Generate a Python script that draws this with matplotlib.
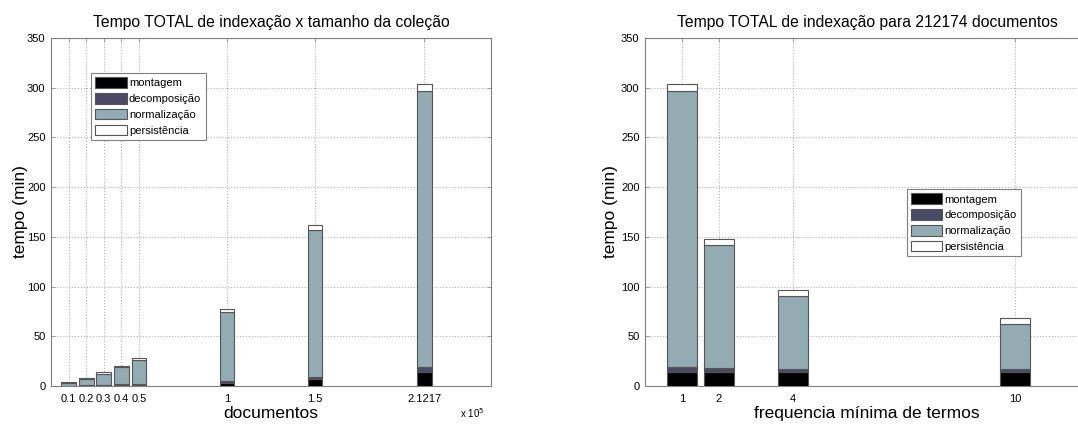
import numpy as np
import matplotlib
matplotlib.use('Agg')
import matplotlib.pyplot as plt

plt.rcParams['font.family'] = ['Liberation Sans', 'DejaVu Sans']

# dados
docs = [0.1, 0.2, 0.3, 0.4, 0.5, 1, 1.5, 2.1217]          # x 10^5 documentos
doc_labels = ['0.1', '0.2', '0.3', '0.4', '0.5', '1', '1.5', '2.1217']
mont_doc = [0.3, 0.6, 1.0, 1.2, 1.5, 3.0, 6.7, 14.4]
decomp_doc = [0.2, 0.3, 0.4, 0.5, 0.6, 2.0, 2.7, 5.1]
norm_doc = [2.7, 6.1, 10.6, 17.3, 24.0, 69.0, 147.6, 277.5]
pers_doc = [0.8, 0.8, 1.8, 1.0, 1.7, 3.5, 4.7, 6.7]

freq = [1, 2, 4, 10]
mont_freq = [14.4, 14.4, 14.4, 14.4]
decomp_freq = [5.1, 3.6, 2.6, 2.6]
norm_freq = [277.5, 123.6, 73.6, 45.4]
pers_freq = [6.7, 6.1, 5.7, 5.6]

labels = ['montagem', 'decomposição', 'normalização', 'persistência']
colors = ['#000000', '#4a4a66', '#93abb2', '#ffffff']

W, H = 1078, 425
fig = plt.figure(figsize=(W / 100, H / 100), dpi=100)


def make_axes(x0, x1, y0, y1):
    return fig.add_axes([x0 / W, 1 - y1 / H, (x1 - x0) / W, (y1 - y0) / H])


def stacked(ax, x, parts, width):
    bottom = np.zeros(len(x))
    for vals, c, lab in zip(parts, colors, labels):
        ax.bar(x, vals, width, bottom=bottom, color=c, edgecolor='#555555',
               linewidth=0.8, label=lab, zorder=3)
        bottom += np.array(vals)


def style(ax, ylab_x):
    ax.set_ylim(0, 350)
    ax.set_yticks(range(0, 351, 50))
    ax.grid(True, linestyle=':', color='#b0b0b0', linewidth=0.8, zorder=0)
    ax.tick_params(direction='in', length=3, width=0.6, labelsize=8,
                   colors='#909090', labelcolor='black',
                   top=True, right=True, labeltop=False, labelright=False)
    ax.tick_params(axis='x', pad=6)
    ax.tick_params(axis='y', pad=4)
    for s in ax.spines.values():
        s.set_color('#808080')
    ax.set_ylabel('tempo (min)', fontsize=12.5)
    ax.yaxis.set_label_coords(ylab_x, 0.5)


def legend(ax, loc):
    leg = ax.legend(loc='upper left', bbox_to_anchor=loc, fontsize=8,
                    fancybox=False, edgecolor='#808080', framealpha=1,
                    handlelength=2.8, handleheight=1.1, labelspacing=0.42,
                    handletextpad=0.2, borderpad=0.4, borderaxespad=0)
    leg.get_frame().set_linewidth(0.8)


# grafico 1
ax1 = make_axes(51, 491, 38, 386)
stacked(ax1, docs, [mont_doc, decomp_doc, norm_doc, pers_doc], 0.085)
ax1.set_xlim(0, 2.5)
ax1.set_xticks(docs)
ax1.set_xticklabels(doc_labels)
style(ax1, -0.052)
ax1.set_xlabel('documentos', fontsize=12.5, labelpad=1)
ax1.set_title('Tempo TOTAL de indexação x tamanho da coleção', fontsize=11.3, pad=8)
legend(ax1, (0.091, 0.90))
ax1.text(0.985, -0.093, r'x 10$^5$', transform=ax1.transAxes, fontsize=7,
         ha='right', va='baseline')

# grafico 2
ax2 = make_axes(645, 1089, 38, 386)
stacked(ax2, freq, [mont_freq, decomp_freq, norm_freq, pers_freq], 0.8)
ax2.set_xlim(0, 12)
ax2.set_xticks(freq)
style(ax2, -0.061)
ax2.set_xlabel('frequencia mínima de termos', fontsize=12.5, labelpad=1)
ax2.set_title('Tempo TOTAL de indexação para 212174 documentos', fontsize=11.3, pad=8)
legend(ax2, (0.589, 0.566))

fig.savefig('out.png', dpi=100)
